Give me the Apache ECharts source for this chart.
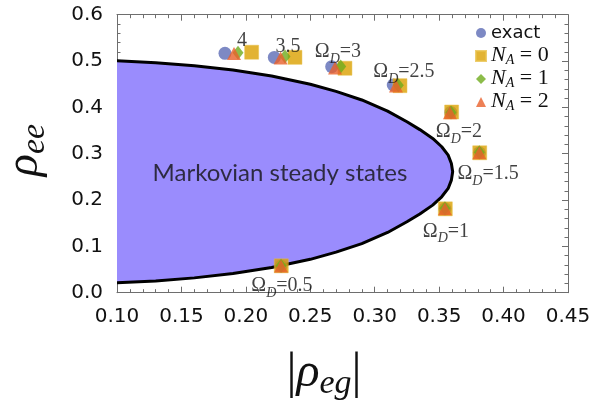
<!DOCTYPE html>
<html><head><meta charset="utf-8">
<script src="https://cdn.jsdelivr.net/npm/echarts@6/dist/echarts.min.js"></script>
<style>html,body{margin:0;padding:0;background:#fff}#c{width:598px;height:401px}</style>
</head><body><div id="c"></div>
<script>
// Boundary of the Markovian steady-state region
const boundaryX     = [0.10, 0.13, 0.16, 0.19, 0.22, 0.25, 0.27, 0.29, 0.31, 0.325, 0.335, 0.345, 0.352, 0.357, 0.3595, 0.3605];
const boundaryUpper = [0.5005, 0.4965, 0.490, 0.4805, 0.4675, 0.450, 0.4345, 0.416, 0.392, 0.369, 0.352, 0.333, 0.315, 0.297, 0.279, 0.261];
const boundaryLower = [0.0215, 0.0255, 0.032, 0.0415, 0.0545, 0.072, 0.0875, 0.106, 0.130, 0.153, 0.170, 0.189, 0.207, 0.225, 0.243, 0.261];

// Omega_D values of the points (order of all series)
const omegaD = ['4', '3.5', '3', '2.5', '2', '1.5', '1', '0.5'];

const exactX = [0.1838, 0.2221, 0.2666, 0.3144, 0.3590, 0.3812, 0.3545, 0.2273];
const exactY = [0.5167, 0.5077, 0.4878, 0.4483, 0.3890, 0.3020, 0.1810, 0.0576];
const na0X   = [0.2045, 0.2381, 0.2769, 0.3196, 0.3597, 0.3815, 0.3548, 0.2275];
const na0Y   = [0.5190, 0.5080, 0.4844, 0.4468, 0.3900, 0.3020, 0.1810, 0.0580];
const na1X   = [0.1939, 0.2304, 0.2736, 0.3183, 0.3592, 0.3812, 0.3545, 0.2273];
const na1Y   = [0.5180, 0.5100, 0.4880, 0.4480, 0.3890, 0.3030, 0.1820, 0.0580];
const na2X   = [0.1908, 0.2270, 0.2692, 0.3165, 0.3584, 0.3812, 0.3545, 0.2273];
const na2Y   = [0.5160, 0.5066, 0.4850, 0.4460, 0.3885, 0.3020, 0.1810, 0.0576];

// Annotation label anchors
const annX = [0.197, 0.2327, 0.2715, 0.3227, 0.3654, 0.388, 0.3553, 0.228];
const annY = [0.552, 0.539, 0.528, 0.4845, 0.355, 0.265, 0.141, 0.023];
const annWithSymbol = [false, false, true, true, true, true, true, true];

const xTicks = [0.10, 0.15, 0.20, 0.25, 0.30, 0.35, 0.40, 0.45];
const yTicks = [0.0, 0.1, 0.2, 0.3, 0.4, 0.5, 0.6];

const regionLabel = 'Markovian steady states';
const regionLabelPos = [0.2265, 0.258];

const zip = (xs, ys) => xs.map((x, i) => [x, ys[i]]);
const boundaryPath = zip(boundaryX, boundaryUpper).concat(zip(boundaryX, boundaryLower).reverse().slice(1));

const serif = 'Liberation Serif';
const sans = 'DejaVu Sans';
const axisGray = '#6e6e6e';

const chart = echarts.init(document.getElementById('c'), null, {renderer: 'canvas'});

const legendText = {
  exact: '{sans|exact}',
  NA0: '{it|N}{sub|A}{rm| = 0}',
  NA1: '{it|N}{sub|A}{rm| = 1}',
  NA2: '{it|N}{sub|A}{rm| = 2}'
};

function commonAxis(extra) {
  return Object.assign({
    type: 'value',
    axisLine: {show: true, onZero: false, lineStyle: {color: axisGray, width: 1}},
    axisTick: {show: true, inside: true, length: 6, lineStyle: {color: axisGray}},
    minorTick: {show: true, splitNumber: 5, length: 3.5, lineStyle: {color: axisGray}},
    splitLine: {show: false},
    minorSplitLine: {show: false}
  }, extra);
}

const annLabelRich = {
  o: {fontFamily: serif, fontSize: 20, color: '#111', lineHeight: 24, verticalAlign: 'top'},
  d: {fontFamily: serif, fontStyle: 'italic', fontSize: 14, color: '#111', lineHeight: 16, verticalAlign: 'bottom'}
};

const option = {
  backgroundColor: '#fff',
  animation: false,
  grid: {left: 117, right: 30, top: 14.7, bottom: 108.3, containLabel: false},
  xAxis: [
    commonAxis({min: 0.1, max: 0.45, interval: 0.05, position: 'bottom',
      axisLabel: {show: true, margin: 14, fontFamily: sans, fontSize: 20, color: '#111',
        formatter: v => { const t = xTicks.find(t => Math.abs(t - v) < 1e-9); return t === undefined ? '' : t.toFixed(2); }}}),
    commonAxis({min: 0.1, max: 0.45, interval: 0.05, position: 'top', axisLabel: {show: false}})
  ],
  yAxis: [
    commonAxis({min: 0, max: 0.6, interval: 0.1, position: 'left',
      axisLabel: {show: true, margin: 14, fontFamily: sans, fontSize: 20, color: '#111',
        formatter: v => { const t = yTicks.find(t => Math.abs(t - v) < 1e-9); return t === undefined ? '' : t.toFixed(1); }}}),
    commonAxis({min: 0, max: 0.6, interval: 0.1, position: 'right', axisLabel: {show: false}})
  ],
  legend: {
    orient: 'vertical', left: 470, top: 16.5, itemWidth: 10, itemHeight: 10, itemGap: 0,
    data: [
      {name: 'exact', icon: 'circle', itemStyle: {color: '#5d6bb5'}},
      {name: 'NA0', icon: 'rect'},
      {name: 'NA1', icon: 'diamond'},
      {name: 'NA2', icon: 'triangle'}
    ],
    formatter: name => legendText[name],
    textStyle: {
      lineHeight: 23,
      rich: {
        sans: {fontFamily: sans, fontSize: 18, color: '#111', lineHeight: 23},
        it: {fontFamily: serif, fontStyle: 'italic', fontSize: 22, color: '#111', lineHeight: 23, verticalAlign: 'top'},
        sub: {fontFamily: serif, fontStyle: 'italic', fontSize: 14, color: '#111', lineHeight: 13, verticalAlign: 'bottom'},
        rm: {fontFamily: serif, fontSize: 22, color: '#111', lineHeight: 23, verticalAlign: 'top'}
      }
    }
  },
  series: [
    {
      type: 'custom', name: 'region', z: 1, silent: true,
      data: boundaryPath,
      renderItem: function (params, api) {
        if (params.dataIndex !== 0) return null;
        const pts = boundaryPath.map(p => api.coord(p));
        return {
          type: 'group',
          children: [
            {type: 'polygon', shape: {points: pts}, style: {fill: '#9a8cfd', stroke: null}},
            {type: 'polyline', shape: {points: pts}, style: {fill: null, stroke: '#000', lineWidth: 3, lineJoin: 'round'}}
          ]
        };
      },
      clip: true
    },
    {type: 'scatter', name: 'exact', z: 3, symbol: 'circle', symbolSize: 13,
      itemStyle: {color: '#5d6bb5'}, data: zip(exactX, exactY)},
    {type: 'scatter', name: 'NA0', z: 4, symbol: 'rect', symbolSize: 14,
      itemStyle: {color: '#dba000', borderColor: '#e8c04a', borderWidth: 0.6}, data: zip(na0X, na0Y)},
    {type: 'scatter', name: 'NA1', z: 5, symbol: 'diamond', symbolSize: [11, 14],
      itemStyle: {color: '#6fab1d'}, data: zip(na1X, na1Y)},
    {type: 'scatter', name: 'NA2', z: 6, symbol: 'triangle', symbolSize: [14, 13],
      itemStyle: {color: '#e8602c'}, data: zip(na2X, na2Y)},
    {
      type: 'scatter', name: 'annotations', z: 7, symbolSize: 0, silent: true,
      data: annX.map((x, i) => ({value: [x, annY[i]], name: omegaD[i]})),
      label: {
        show: true, position: 'inside', align: 'center', verticalAlign: 'middle', offset: [0, 6],
        formatter: p => annWithSymbol[p.dataIndex] ? '{o|Ω}{d|D}{o|=' + p.name + '}' : '{o|' + p.name + '}',
        rich: annLabelRich
      }
    },
    {
      type: 'scatter', name: 'regionText', z: 7, symbolSize: 0, silent: true,
      data: [{value: regionLabelPos, name: regionLabel}],
      label: {show: true, position: 'inside', formatter: p => p.name,
        fontFamily: 'Lato', fontSize: 24, color: '#111'}
    }
  ],
  graphic: [
    {type: 'text', x: 27, y: 150, rotation: Math.PI / 2, silent: true,
      style: {text: '{r|ρ}{s|ee}', align: 'center', verticalAlign: 'middle',
        rich: {
          r: {fontFamily: serif, fontStyle: 'italic', fontSize: 46, lineHeight: 50, verticalAlign: 'top', fill: '#111'},
          s: {fontFamily: serif, fontStyle: 'italic', fontSize: 34, lineHeight: 28, verticalAlign: 'bottom', fill: '#111'}
        }}},
    {type: 'text', x: 324, y: 375, silent: true,
      style: {text: '{b||}{r|ρ}{s|eg}{b||}', align: 'center', verticalAlign: 'middle',
        rich: {
          b: {fontFamily: serif, fontSize: 50, lineHeight: 52, verticalAlign: 'top', fill: '#111'},
          r: {fontFamily: serif, fontStyle: 'italic', fontSize: 48, lineHeight: 52, verticalAlign: 'top', fill: '#111'},
          s: {fontFamily: serif, fontStyle: 'italic', fontSize: 34, lineHeight: 28, verticalAlign: 'bottom', fill: '#111'}
        }}}
  ]
};
chart.setOption(option);
</script></body></html>
